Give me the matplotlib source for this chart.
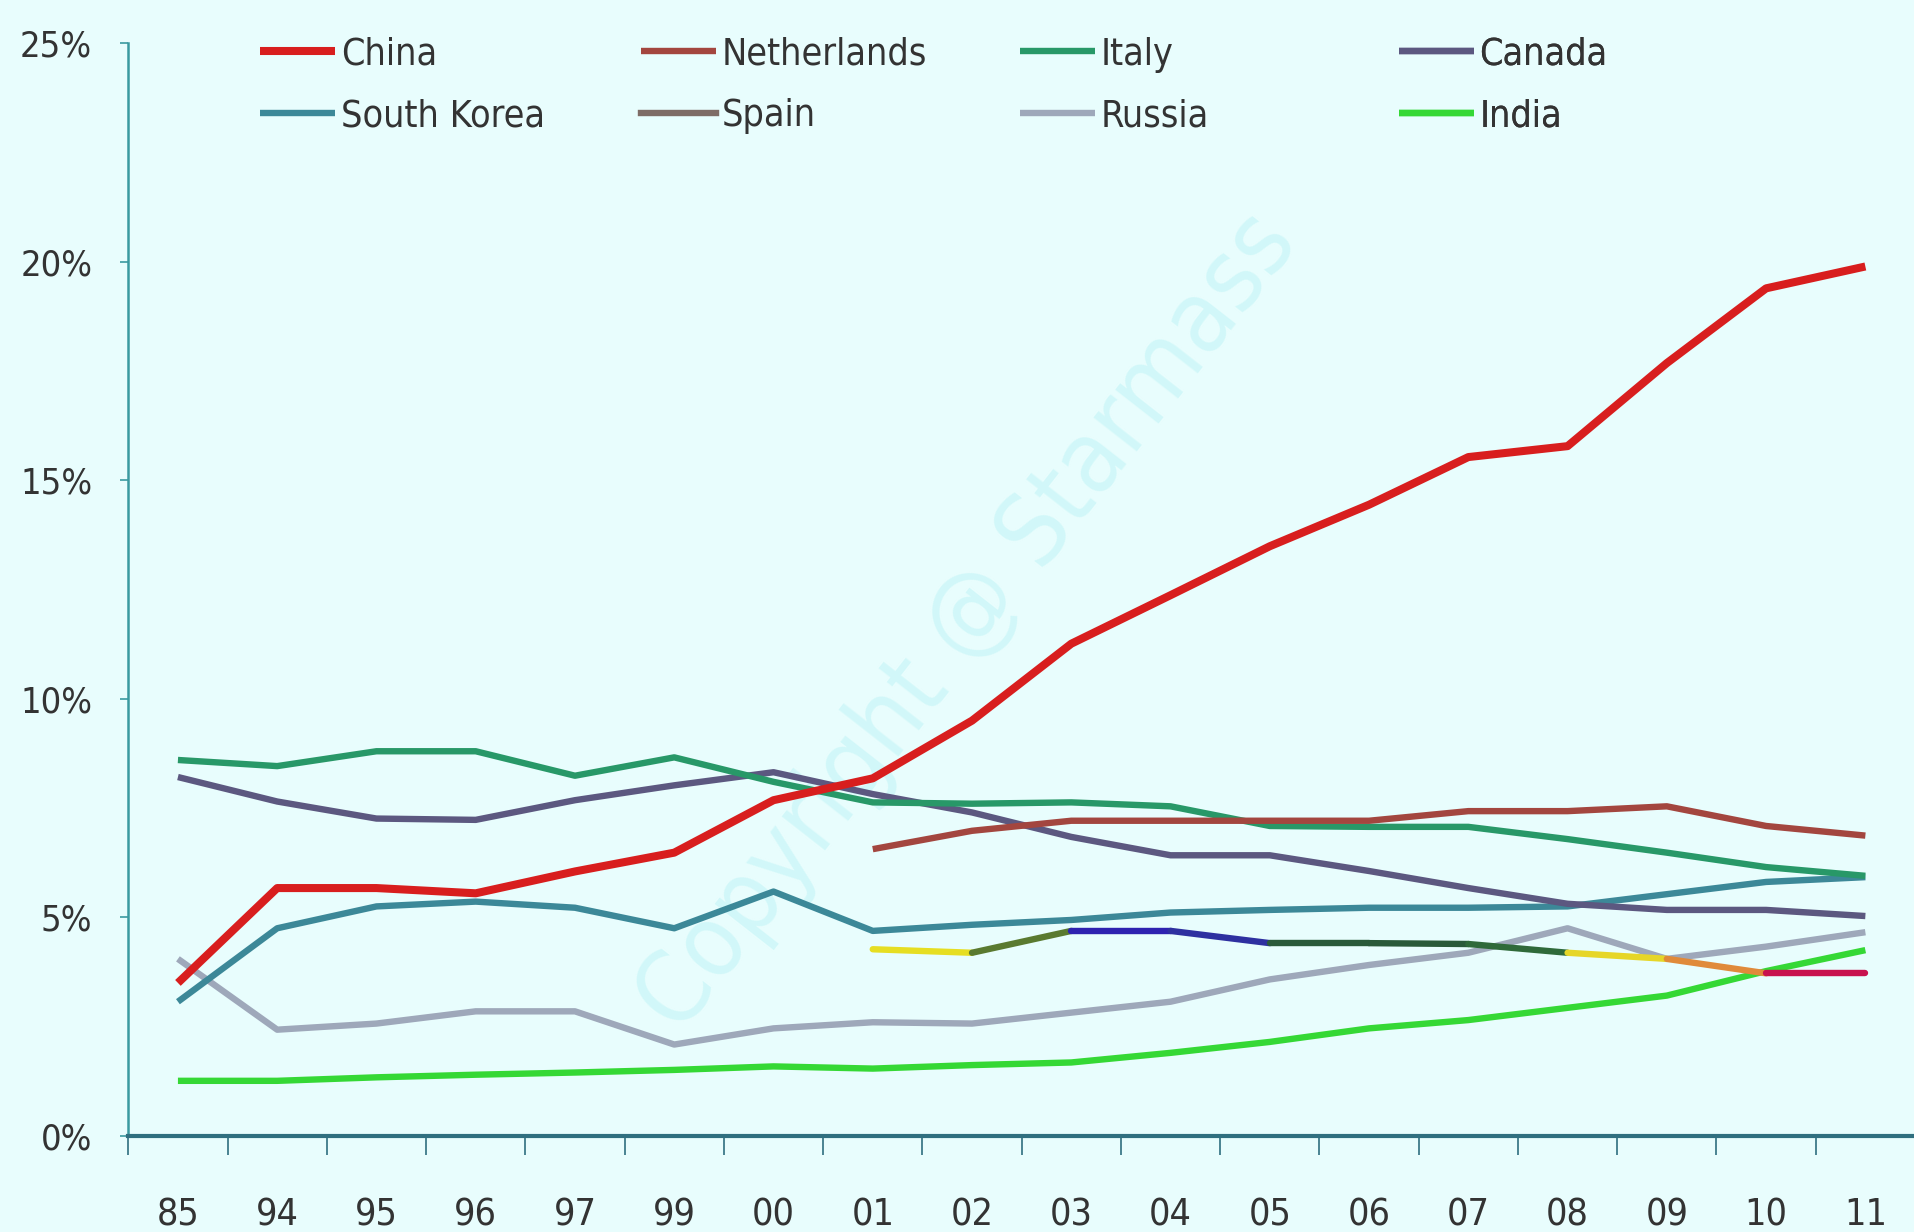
import numpy as np
import matplotlib
matplotlib.use('Agg')
import matplotlib.pyplot as plt
from matplotlib.lines import Line2D
from matplotlib.collections import LineCollection

plt.rcParams['font.family'] = ['DejaVu Sans']
plt.rcParams['font.stretch'] = 'condensed'

years = ['85', '94', '95', '96', '97', '99', '00', '01', '02', '03',
         '04', '05', '06', '07', '08', '09', '10', '11']
nan = np.nan

china = [3.5, 5.67, 5.67, 5.55, 6.05, 6.48, 7.68, 8.18, 9.5, 11.26,
         12.37, 13.49, 14.44, 15.53, 15.78, 17.68, 19.39, 19.89]
italy = [8.6, 8.46, 8.8, 8.8, 8.24, 8.66, 8.1, 7.63, 7.6, 7.63,
         7.54, 7.09, 7.07, 7.07, 6.79, 6.48, 6.15, 5.95]
canada = [8.21, 7.65, 7.26, 7.23, 7.68, 8.02, 8.32, 7.82, 7.4, 6.84,
          6.42, 6.42, 6.06, 5.67, 5.31, 5.17, 5.17, 5.03]
south_korea = [3.07, 4.75, 5.25, 5.36, 5.22, 4.75, 5.59, 4.69, 4.83, 4.94,
               5.11, 5.17, 5.22, 5.22, 5.25, 5.53, 5.81, 5.92]
netherlands = [nan] * 7 + [6.56, 6.98, 7.21, 7.21, 7.21, 7.21, 7.43,
                           7.43, 7.54, 7.09, 6.87]
spain = [nan] * 7 + [4.27, 4.19, 4.69, 4.69, 4.41, 4.41, 4.39,
                     4.19, 4.05, 3.72, 3.72]
russia = [4.05, 2.43, 2.57, 2.85, 2.85, 2.09, 2.46, 2.6, 2.57, 2.82,
          3.07, 3.58, 3.91, 4.19, 4.75, 4.05, 4.33, 4.66]
india = [1.26, 1.26, 1.34, 1.4, 1.45, 1.51, 1.59, 1.54, 1.62, 1.68,
         1.9, 2.15, 2.46, 2.65, 2.93, 3.21, 3.77, 4.25]

bg = '#E8FDFD'
fig = plt.figure(figsize=(19.15, 12.32), dpi=100, facecolor=bg)
ax = fig.add_axes([0.067, 0.078, 0.933, 0.887], facecolor=bg)

x = np.arange(len(years))

# watermark
ax.text(0.47, 0.47, 'Copyright @ Starmass', transform=ax.transAxes,
        rotation=52, fontsize=72, color='#A8EEF2', alpha=0.35,
        ha='center', va='center', zorder=0)

series = [
    ('India', india, '#35D835', 4.6),
    ('Russia', russia, '#9EA8BA', 4.6),
    ('South Korea', south_korea, '#3C8898', 4.6),
    ('Canada', canada, '#5C5880', 4.6),
    ('Italy', italy, '#289868', 4.6),
    ('Netherlands', netherlands, '#A3463F', 4.6),
    ('China', china, '#D81E1E', 5.8),
]
handles = {}
for name, vals, col, lw in series:
    ln, = ax.plot(x, np.array(vals, dtype=float), color=col, lw=lw,
                  solid_joinstyle='round', solid_capstyle='butt', zorder=3)
    handles[name] = ln

# Spain drawn as coloured segments (as in source)
sp = np.array(spain, dtype=float)
pts = np.column_stack([x, sp])[7:]
segs = [pts[i:i + 2] for i in range(len(pts) - 1)]
seg_cols = ['#E6DE22', '#5A7A30', '#2E22B0', '#2E30A0', '#2A5A3A',
            '#2A5A3A', '#2F6A3A', '#E6D628', '#E08A3A', '#C8124E']
ax.add_collection(LineCollection(segs, colors=seg_cols, linewidths=4.6,
                                 capstyle='round', zorder=3))
handles['Spain'] = Line2D([], [], color='#7E6C66', lw=4.6)

# legend: 4 equally spaced columns, 2 rows
columns = [['China', 'South Korea'], ['Netherlands', 'Spain'],
           ['Italy', 'Russia'], ['Canada', 'India']]
col_x = [0.0738, 0.287, 0.499, 0.711]
for names, cx in zip(columns, col_x):
    lg = ax.legend([handles[k] for k in names], names, frameon=False,
                   loc='upper left', bbox_to_anchor=(cx, 1.006),
                   borderpad=0, borderaxespad=0, fontsize=27,
                   handlelength=2.0, handletextpad=0.15, labelspacing=0.68,
                   labelcolor='#333333')
    ax.add_artist(lg)

ax.set_xlim(-0.5, len(years) - 0.5)
ax.set_ylim(0, 25)
ax.set_xticks(x)
ax.set_xticklabels(years)
ax.set_xticks(np.arange(len(years) + 1) - 0.5, minor=True)
ax.tick_params(axis='x', which='major', length=0, pad=44,
               labelsize=27, labelcolor='#333333')
ax.tick_params(axis='x', which='minor', length=14, width=1.2,
               color='#2F6F7F', direction='out')
ax.set_yticks([0, 5, 10, 15, 20, 25])
ax.set_yticklabels(['0%', '5%', '10%', '15%', '20%', '25%'])
ax.tick_params(axis='y', length=6, width=1.2, color='#3A9AA0',
               labelsize=26, labelcolor='#333333', pad=20)

for s in ['top', 'right']:
    ax.spines[s].set_visible(False)
ax.spines['left'].set_color('#3A9AA0')
ax.spines['left'].set_linewidth(1.8)
ax.spines['bottom'].set_color('#2F6F7F')
ax.spines['bottom'].set_linewidth(3)

fig.savefig('out.png', dpi=100, facecolor=bg)
